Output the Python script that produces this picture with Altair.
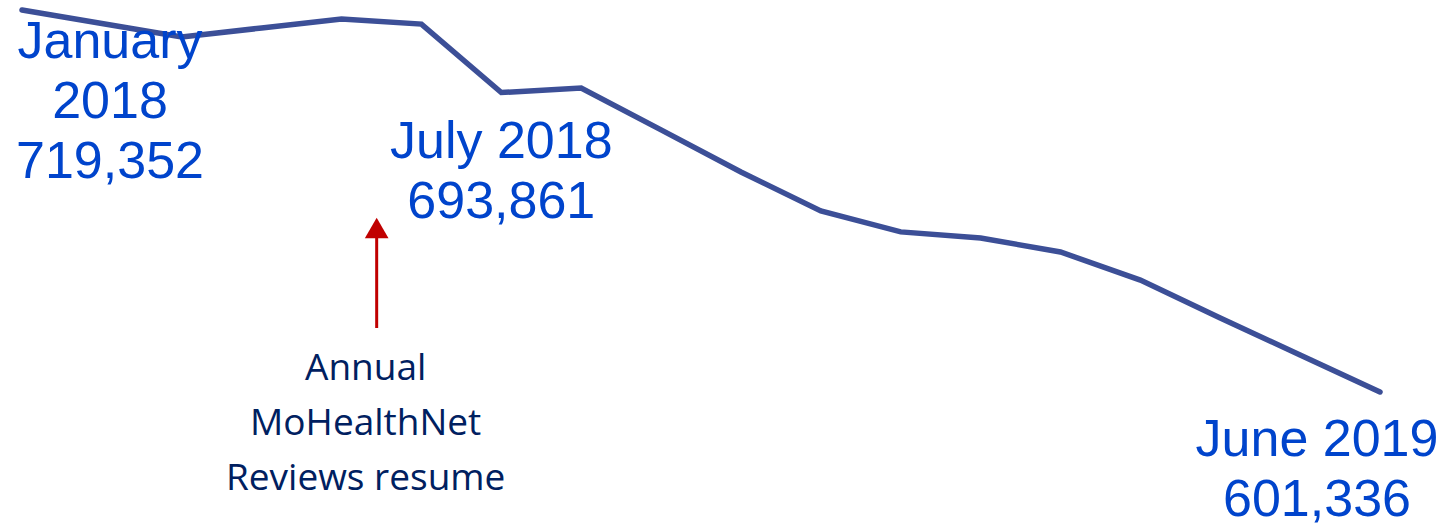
import altair as alt
import pandas as pd

months = ["Jan 2018", "Feb 2018", "Mar 2018", "Apr 2018", "May 2018", "Jun 2018",
          "Jul 2018", "Aug 2018", "Sep 2018", "Oct 2018", "Nov 2018", "Dec 2018",
          "Jan 2019", "Feb 2019", "Mar 2019", "Apr 2019", "May 2019", "Jun 2019"]
enrollment = [719352, 715200, 711000, 713800, 716550, 715000,
              693861, 695250, 682300, 669300, 657250, 650800,
              648900, 644600, 635900, 624200, 612800, 601336]

label_text = ["January\n2018\n719,352", "July 2018\n693,861", "June 2019\n601,336"]
label_month = [0, 6, 17]

note_text = "Annual\nMoHealthNet\nReviews resume"
note_month = 4.44
arrow_from = 621100
arrow_to = 651400

df = pd.DataFrame({"i": list(range(len(months))), "month": months, "value": enrollment})

xs = alt.Scale(domain=[0, 17], range=[22, 1380])
ys = alt.Scale(domain=[601336, 719352], range=[392, 10], zero=False, nice=False)

line = alt.Chart(df).mark_line(color="#3C4F97", strokeWidth=5.5, strokeCap="round",
                               strokeJoin="miter").encode(
    x=alt.X("i:Q", scale=xs, axis=None),
    y=alt.Y("value:Q", scale=ys, axis=None),
)

lab_df = pd.DataFrame({"i": label_month, "text": label_text,
                       "value": [enrollment[k] for k in label_month]})

label_style = dict(font="Liberation Sans", fontSize=52, color="#0044CC",
                   align="center", baseline="alphabetic", lineHeight=60, lineBreak="\n")
offsets = [(88, 48), (0, 65), (-63, 64)]
labels = []
for k, (dx, dy) in enumerate(offsets):
    labels.append(
        alt.Chart(lab_df.iloc[[k]]).mark_text(dx=dx, dy=dy, **label_style).encode(
            x=alt.X("i:Q", scale=xs), y=alt.Y("value:Q", scale=ys),
            text="text:N")
    )

arrow_df = pd.DataFrame({"i": [note_month], "y1": [arrow_from], "y2": [arrow_to]})
shaft = alt.Chart(arrow_df).mark_rule(color="#C00000", strokeWidth=3).encode(
    x=alt.X("i:Q", scale=xs), y=alt.Y("y1:Q", scale=ys), y2="y2:Q")
head = alt.Chart(arrow_df).mark_point(shape="triangle-up", filled=True, opacity=1,
                                      color="#C00000", size=560, yOffset=-2).encode(
    x=alt.X("i:Q", scale=xs), y=alt.Y("y2:Q", scale=ys))

note_df = pd.DataFrame({"i": [note_month], "value": [arrow_from], "text": [note_text]})
note = alt.Chart(note_df).mark_text(font="Open Sans", fontSize=37, color="#002060",
                                    align="center", baseline="alphabetic", lineBreak="\n",
                                    lineHeight=55, dy=52, dx=-11).encode(
    x=alt.X("i:Q", scale=xs), y=alt.Y("value:Q", scale=ys), text="text:N")

chart = alt.layer(line, *labels, shaft, head, note).properties(
    width=1444, height=524, padding=0,
    autosize=alt.AutoSizeParams(type="none"),
).configure_view(stroke=None)

chart.save("out.html", embed_options={"renderer": "svg", "actions": False})
